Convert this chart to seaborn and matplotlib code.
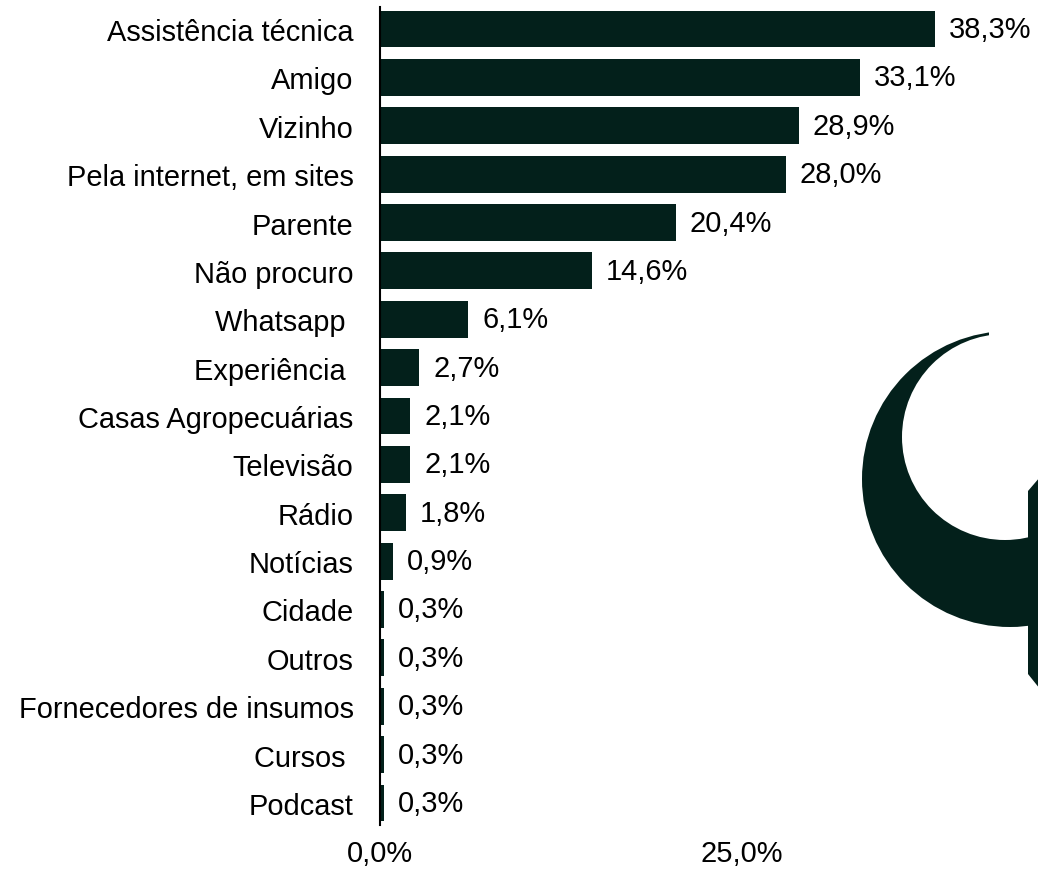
import matplotlib
matplotlib.use("Agg")
import matplotlib.pyplot as plt
import seaborn as sns
import pandas as pd
from matplotlib.patches import Circle, Polygon, Rectangle

# chart values
categories = [
    "Assistência técnica", "Amigo", "Vizinho", "Pela internet, em sites",
    "Parente", "Não procuro", "Whatsapp ", "Experiência ",
    "Casas Agropecuárias", "Televisão", "Rádio", "Notícias", "Cidade",
    "Outros", "Fornecedores de insumos", "Cursos ", "Podcast",
]
values = [38.3, 33.1, 28.9, 28.0, 20.4, 14.6, 6.1, 2.7, 2.1, 2.1, 1.8, 0.9,
          0.3, 0.3, 0.3, 0.3, 0.3]
x_ticks = [0, 25]
x_tick_labels = ["0,0%", "25,0%"]

dark = "#03201b"

sns.set_style("white")
plt.rcParams["font.family"] = ["Liberation Sans", "DejaVu Sans"]
plt.rcParams["text.color"] = "black"
plt.rcParams["xtick.color"] = "black"
plt.rcParams["ytick.color"] = "black"
fs = 20.9

df = pd.DataFrame({"categoria": categories, "valor": values})

fig = plt.figure(figsize=(10.38, 8.79), dpi=100)
W, H = 1038, 879
ax = fig.add_axes([380 / W, 1 - 826 / H, (W - 380) / W, (826 - 8) / H])
ax.set_facecolor("none")

sns.barplot(data=df, x="valor", y="categoria", color=dark, saturation=1,
            width=0.76, edgecolor="none", ax=ax)

ax.set_xlim(0, (W - 380) / 14.49)
ax.set_ylim(len(categories) - 1 + 0.455, -0.455)
ax.set_xticks(x_ticks)
ax.set_xticklabels(x_tick_labels, fontsize=fs)
ax.tick_params(axis="x", length=0, pad=10, colors="black")
ax.tick_params(axis="y", length=0, pad=19, labelsize=fs, colors="black")
ax.set_xlabel("")
ax.set_ylabel("")
for s in ["top", "right", "bottom"]:
    ax.spines[s].set_visible(False)
ax.spines["left"].set_color("black")
ax.spines["left"].set_linewidth(1.5)

ax.bar_label(ax.containers[0],
             labels=[f"{v:.1f}%".replace(".", ",") for v in values],
             padding=10, fontsize=fs, color="black")

# decorative logo fragment on the right edge
lax = fig.add_axes([0, 0, 1, 1], zorder=5)
lax.patch.set_alpha(0)
lax.set_xlim(0, W)
lax.set_ylim(H, 0)
lax.axis("off")
lax.add_patch(Circle((1010, 480), 148, color=dark, lw=0))
lax.add_patch(Circle((1005, 438), 103, color="white", lw=0))
lax.add_patch(Rectangle((989, 320), 60, 160, color="white", lw=0))
lax.add_patch(Polygon([(1028, 492), (1040, 478), (1040, 690), (1028, 675)],
                      closed=True, color=dark, lw=0))

fig.savefig("out.png", dpi=100)
